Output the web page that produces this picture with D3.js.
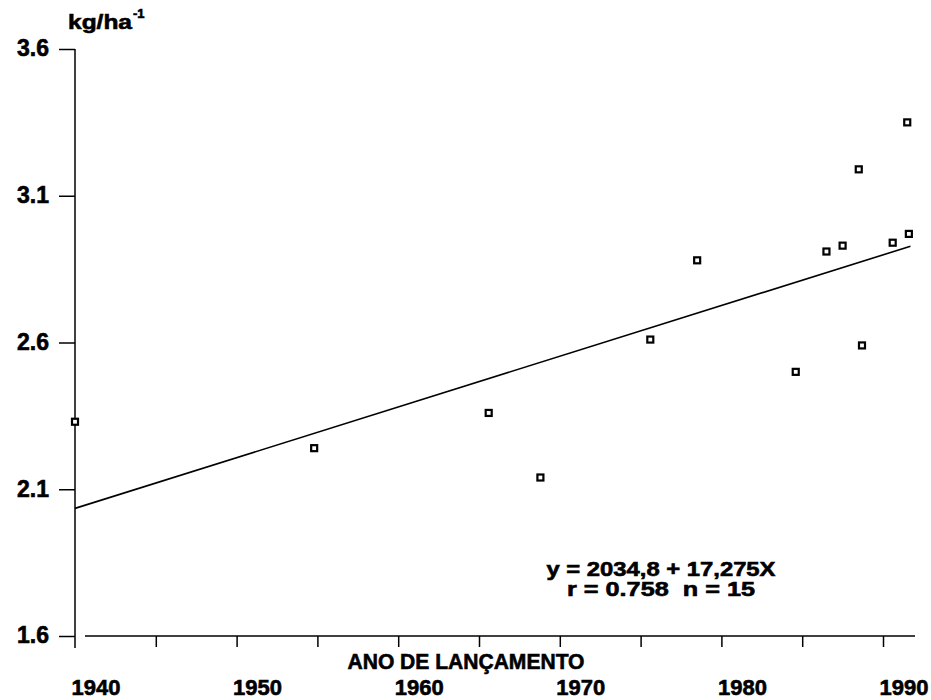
<!DOCTYPE html>
<meta charset="UTF-8">
<style>
body { margin: 0; background: #fff; }
svg text {
  font-family: "Liberation Sans", Arial, sans-serif;
  font-weight: bold;
  fill: #000;
  stroke: #000;
  stroke-width: 0.6px;
  white-space: pre;
}
.axis path, .axis line { stroke: #000; stroke-width: 1.5px; }
.fit { fill: none; stroke: #000; stroke-width: 1.6px; }
.pt { fill: #fff; stroke: #000; stroke-width: 2.2px; }
</style>
<body>
<script src="https://d3js.org/d3.v7.min.js"></script>
<script>

// year of release and yield (thousand kg/ha)
var years  = [1940, 1954.8, 1965.6, 1968.8, 1975.6, 1978.5, 1984.6, 1986.5, 1987.5, 1988.5, 1988.7, 1990.6, 1991.5, 1991.6];
var yields = [2.33, 2.24,   2.36,   2.14,   2.61,   2.88,   2.50,   2.91,   2.93,   3.19,   2.59,   2.94,   3.35,   2.97];

// regression y = a + b*X, X = years since 1940, kg/ha
var fitA = 2034.8, fitB = 17.275;
var fitYears = [1940, 1991.7];

var xTicks = [1940, 1945, 1950, 1955, 1960, 1965, 1970, 1975, 1980, 1985, 1990];
var xLabels = [1940, 1950, 1960, 1970, 1980, 1990];
var yTicks = [1.6, 2.1, 2.6, 3.1, 3.6];

var eqLines = ["y = 2034,8 + 17,275X", "r = 0.758  n = 15"];

var width = 931, height = 700;

var x = d3.scaleLinear().domain([1940, 1990]).range([75, 883]);
var y = d3.scaleLinear().domain([1.6, 3.6]).range([636, 49]);

var svg = d3.select("body").append("svg")
    .attr("width", width)
    .attr("height", height);

// y axis
var yAxis = svg.append("g")
    .attr("class", "axis")
    .attr("transform", "translate(" + x(1940) + ",0)")
    .call(d3.axisLeft(y).tickValues(yTicks).tickSize(16).tickPadding(10)
      .tickFormat(d3.format(".1f")));
yAxis.select(".domain").remove();
yAxis.selectAll("text").style("font-size", "23px").attr("dy", "0.3em");
yAxis.append("line")
    .attr("y1", y(3.6)).attr("y2", 648);

// x axis (ticks only, labels drawn separately, they sit right of the ticks in the original)
var xAxis = svg.append("g")
    .attr("class", "axis")
    .attr("transform", "translate(0," + y(1.6) + ")")
    .call(d3.axisBottom(x).tickValues(xTicks.slice(1)).tickSize(11).tickFormat(""));
xAxis.select(".domain").remove();
xAxis.append("line")
    .attr("x1", x(1940) + 10).attr("x2", 915);

svg.append("g").selectAll("text")
    .data(xLabels)
  .enter().append("text")
    .attr("x", function(d) { return x(d) + 21; })
    .attr("y", 695)
    .attr("text-anchor", "middle")
    .style("font-size", "22px")
    .text(function(d) { return d; });

// axis titles
svg.append("text")
    .attr("x", 466).attr("y", 669)
    .attr("text-anchor", "middle")
    .attr("textLength", 237).attr("lengthAdjust", "spacingAndGlyphs")
    .style("font-size", "22px")
    .text("ANO DE LANÇAMENTO");

svg.append("text")
    .attr("x", 68).attr("y", 29)
    .attr("textLength", 64).attr("lengthAdjust", "spacingAndGlyphs")
    .style("font-size", "21px")
    .text("kg/ha");
svg.append("text")
    .attr("x", 133).attr("y", 18)
    .style("font-size", "13px")
    .text("-1");

// regression line
svg.append("path")
    .attr("class", "fit")
    .datum(fitYears)
    .attr("d", d3.line()
      .x(function(d) { return x(d); })
      .y(function(d) { return y((fitA + fitB * (d - 1940)) / 1000); }));

// points
svg.append("g").selectAll("rect")
    .data(years)
  .enter().append("rect")
    .attr("class", "pt")
    .attr("x", function(d) { return x(d) - 3; })
    .attr("y", function(d, i) { return y(yields[i]) - 3; })
    .attr("width", 6)
    .attr("height", 6);

// equation
svg.append("g").selectAll("text")
    .data(eqLines)
  .enter().append("text")
    .attr("x", 661)
    .attr("y", function(d, i) { return 576 + i * 20; })
    .attr("text-anchor", "middle")
    .attr("textLength", function(d, i) { return i === 0 ? 229 : 188; })
    .attr("lengthAdjust", "spacingAndGlyphs")
    .style("font-size", "20px")
    .text(function(d) { return d; });

</script>
</body>
